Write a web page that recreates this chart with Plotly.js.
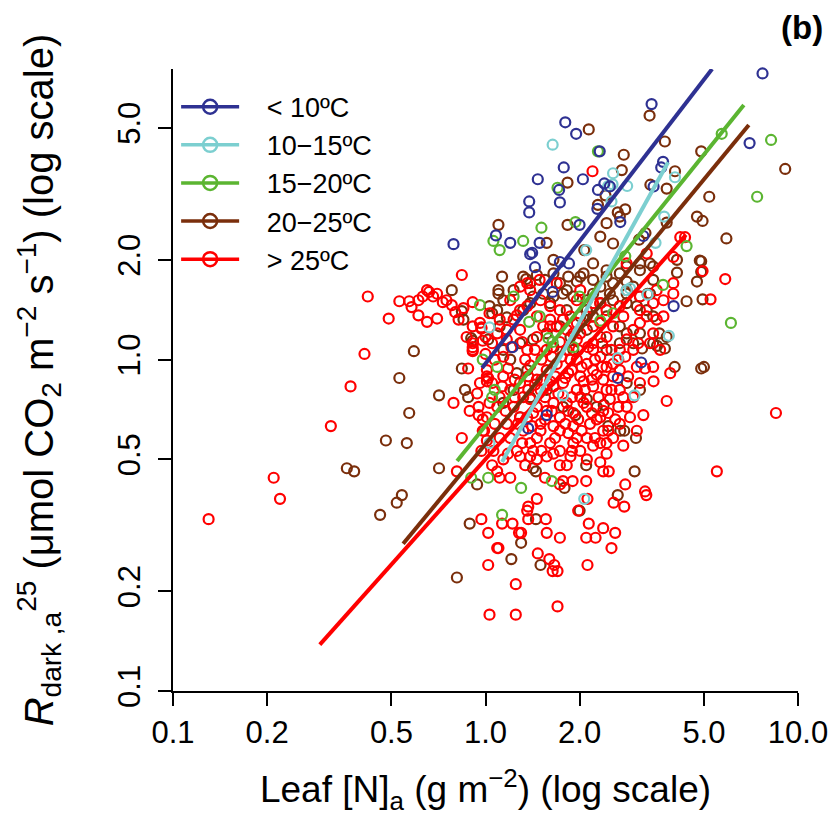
<!DOCTYPE html>
<html><head><meta charset="utf-8">
<script src="https://cdn.plot.ly/plotly-3.0.1.min.js"></script>
<style>html,body{margin:0;padding:0;background:#fff}#chart{width:831px;height:817px}</style>
</head><body><div id="chart"></div>
<script>
// ---- series labels and colours ----
const seriesNames = ['&lt; 10ºC', '10−15ºC', '15−20ºC', '20−25ºC', '&gt; 25ºC'];
const seriesColors = ['#2E3192', '#7CCFD0', '#5BB531', '#7A2E0B', '#FF0000'];

// ---- tick labels ----
const xTickVals = [0.1, 0.2, 0.5, 1, 2, 5, 10];
const xTickText = ['0.1', '0.2', '0.5', '1.0', '2.0', '5.0', '10.0'];
const yTickVals = [0.1, 0.2, 0.5, 1, 2, 5];
const yTickText = ['0.1', '0.2', '0.5', '1.0', '2.0', '5.0'];

// ---- data: [Leaf N_a (g m-2), Rdark_a25 (umol CO2 m-2 s-1)] ----
const ptsLt10 = [[7.7,7.3],[3.4,5.9],[1.8,5.2],[1.95,4.8],[7.0,4.5],[3.65,3.8],[3.7,3.95],[1.47,3.5],[1.78,3.8],[2.05,3.5],[1.72,3.25],[1.73,2.98],[2.29,3.25],[2.28,2.85],[1.38,3.0],[1.38,2.78],[2.4,3.4],[2.5,3.33],[3.45,3.33],[0.79,2.23],[1.08,2.37],[1.2,2.25],[1.49,2.25],[1.41,2.1],[1.44,1.9],[2.0,2.55],[2.7,2.6],[3.2,2.36],[4.0,1.45],[1.85,1.95],[1.73,1.97],[1.22,1.09],[1.39,2.08],[2.32,4.25],[3.15,0.98],[2.65,0.88],[1.37,0.62],[1.57,0.68],[1.64,1.6]];

const pts10to15 = [[1.64,4.45],[2.56,3.65],[2.47,3.34],[2.55,3.38],[2.84,3.34],[4.04,3.55],[3.73,2.7],[3.5,2.25],[2.53,3.0],[1.03,1.25],[3.86,1.18],[3.3,1.57],[2.83,1.62],[2.1,2.14],[2.65,1.01],[3.0,0.78],[1.77,0.78],[2.07,0.38],[2.9,1.64],[1.03,0.56]];

const pts15to20 = [[5.7,4.8],[8.2,4.6],[7.4,3.1],[6.1,1.29],[2.29,4.25],[1.7,3.3],[1.51,2.5],[1.32,2.28],[1.06,2.28],[1.11,2.14],[1.23,1.55],[0.96,1.46],[1.94,2.6],[4.4,2.2],[3.7,1.68],[1.49,1.35],[1.09,0.95],[1.05,0.77],[1.3,0.41],[1.13,0.34],[1.02,0.44],[1.63,0.43],[1.64,1.13],[2.56,1.38],[0.98,1.0],[1.07,0.81],[0.9,0.44],[1.59,1.16],[1.91,1.09],[2.33,1.31],[1.38,1.3],[2.0,1.55],[2.8,2.05]];

const pts20to25 = [[3.35,5.45],[2.14,4.95],[3.75,4.55],[4.9,4.25],[9.1,3.76],[2.77,4.15],[2.73,3.73],[1.83,3.42],[3.37,3.37],[3.8,3.28],[4.04,3.7],[2.29,2.93],[2.42,3.13],[5.2,3.1],[4.75,2.7],[4.95,2.62],[5.9,2.32],[3.8,2.59],[2.8,2.84],[2.65,2.78],[1.1,2.55],[1.83,2.55],[4.85,1.99],[4.9,1.84],[4.1,2.0],[4.1,1.83],[4.75,1.72],[1.13,1.78],[1.1,1.62],[0.78,1.62],[1.57,2.25],[1.65,2.0],[2.07,2.14],[3.1,2.3],[3.25,2.41],[4.95,1.52],[4.4,1.5],[1.03,1.45],[1.05,1.38],[0.84,1.4],[0.9,1.16],[1.17,1.34],[1.35,1.75],
[1.1,1.58],[0.85,1.32],[0.84,0.94],[0.71,0.78],[0.86,0.81],[0.88,0.77],[0.71,0.47],[0.89,0.32],[0.94,0.42],[0.81,0.22],[1.21,0.25],[1.3,0.28],[1.5,0.24],[1.45,0.33],[1.79,0.41],[2.0,0.35],[2.65,0.39],[3.0,0.46],[3.03,0.58],[2.78,0.61],[2.7,0.61],[2.47,0.63],[2.39,0.73],[1.94,0.68],[2.1,0.48],[1.45,0.46],[1.42,0.47],[4.9,0.94],[5.0,0.95],[4.03,0.95],[4.9,1.98],[3.54,1.1],[3.75,1.08],[3.6,1.2],[3.8,1.17],[3.17,1.08],[3.3,1.58],
[0.59,1.06],[0.53,0.88],[0.57,0.69],[0.48,0.57],[0.56,0.56],[0.36,0.47],[0.38,0.46],[0.54,0.39],[0.52,0.37],[0.46,0.34],[1.02,1.15],[0.91,1.14],
[1.32,1.78],[1.39,1.70],[1.46,1.8],[1.55,1.74],[1.65,1.82],[1.73,1.7],[1.84,1.78],[1.96,1.72],[2.06,1.82],[2.21,1.74],[2.33,1.66],[2.44,1.78],[2.56,1.7],[2.69,1.82],[2.83,1.72],[2.97,1.66],[3.12,1.86],[3.36,1.95],[3.44,1.74],[1.77,1.58],[1.91,1.55],[2.11,1.51],[2.33,1.48],[2.56,1.51],[2.83,1.48],[3.05,1.45],[3.28,1.41],[3.44,1.35],[2.69,1.26],[2.83,1.2],[2.44,1.07],[2.33,1.17],[2.11,1.23],[1.87,1.17],[1.73,1.26],[1.57,1.2],[1.42,1.15],[1.29,1.12],[1.2,1.0],[1.14,1.07],[1.36,0.93],[1.26,0.91],[1.65,1.09],[1.91,1.07],[2.69,1.12],[2.97,1.12],[3.12,1.2],[3.44,1.12],[2.44,1.35],[2.21,1.35],[1.14,1.51],[1.23,1.62],[1.09,1.41],[1.53,1.58],[1.39,1.48],[1.61,1.48],[1.82,1.41],[2.01,1.35],[2.21,1.58],[2.5,1.58],[2.83,1.58],[3.12,1.55],[3.36,1.58],[2.27,0.72],[1.57,0.81],[1.39,0.77],[1.23,0.81],[1.77,0.72],[2.11,0.76],[2.83,0.85],[3.12,0.81],[1.29,0.67],[1.14,0.74],
[2.44,2.58],[2.69,2.7],[2.33,2.35],[2.56,2.24],[2.21,1.95],[2.44,1.86],[2.83,1.91],[3.12,1.95],[3.44,1.91],[2.01,1.78],[1.82,1.62],[1.65,1.55],[1.42,1.55],[1.32,1.41],[1.11,1.26],[2.11,1.41],[2.83,1.62]];

const ptsGt25 = [[0.13,0.33],[0.21,0.44],[0.22,0.38],[0.32,0.63],[0.37,0.83],[0.41,1.04],[0.42,1.55],[0.49,1.33],[0.53,1.5],[0.58,1.44],[0.61,1.51],[0.63,1.55],[0.65,1.62],[0.68,1.55],[0.70,1.58],[0.61,1.36],[0.65,1.3],[0.70,1.33],[0.75,1.51],[0.78,1.46],[0.80,1.39],[0.84,1.8],[0.85,1.43],[0.91,1.49],[0.82,1.32],[0.97,1.25],[0.98,1.14],[0.91,1.09],[0.91,1.06],[0.88,0.94],[0.79,0.74],[0.95,0.68],[0.98,0.66],[0.99,0.61],[0.84,0.58],[0.81,0.46],[0.97,0.33],[1.02,0.3],[1.02,0.24],[1.01,0.89],[1.01,0.86],[0.66,1.6],[0.73,1.49],[0.57,1.5],
[8.5,0.69],[5.5,0.46],[5.85,1.75],[5.25,1.52],[4.95,1.85],[3.8,0.75],[3.45,0.86],[3.9,0.91],[3.2,0.68],[3.24,0.94],[3.24,0.4],[3.27,0.39],[2.8,0.42],[2.57,0.37],[2.78,0.36],[2.6,0.3],[2.53,0.27],[2.38,0.31],[2.38,0.46],[2.48,0.46],[2.12,0.38],[2.14,0.32],[2.1,0.29],[2.25,0.29],[2.12,0.24],[1.7,0.18],[1.25,0.17],[1.03,0.17],[1.25,0.21],[1.09,0.27],[1.1,0.27],[1.13,0.32],[1.22,0.32],[1.28,0.3],[1.3,0.3],[1.37,0.33],[1.56,0.33],[1.57,0.3],[1.73,0.29],[1.47,0.26],[1.6,0.25],[1.66,0.24],[1.64,0.23],[1.7,0.23],[1.37,0.36],[1.36,0.35],[1.46,0.38],[1.98,0.35],[1.9,0.43],[2.1,0.43],[1.73,0.42],[1.77,0.43],[1.09,0.46],[1.11,0.44],[1.2,0.44],
[4.2,2.34],[4.35,2.34],[2.2,3.7],[1.36,1.7],[1.49,1.74],[1.69,1.7],[2.01,1.62],[2.33,1.48],[2.69,1.45],[3.12,1.55],[3.53,1.62],[3.99,1.7],[3.28,2.09],[2.83,1.95],[3.99,2.04],[1.29,1.41],[1.61,1.26],[1.91,1.2],[2.21,1.12],[1.17,1.15],[0.96,1.29],
[0.97,1.24],[1.0,1.17],[0.91,1.07],[1.01,0.93],[0.96,0.85],[1.02,0.88],[1.14,1.02],[1.18,0.94],[1.26,1.36],[1.29,1.23],[1.31,1.13],[1.36,1.07],[1.39,0.96],[1.46,1.17],[1.53,1.26],[1.57,1.07],[1.63,1.02],[1.69,0.97],[1.73,1.13],[1.82,1.07],[1.89,0.93],[1.96,1.0],[2.01,0.89],[2.11,0.97],[2.21,1.07],[2.33,1.02],[2.44,0.95],[2.56,0.89],[2.69,1.07],[2.83,1.15],[2.97,1.23],[3.12,1.29],[3.28,1.35],[3.44,1.2],[3.53,1.32],[3.71,1.35],[3.62,1.07],[3.44,0.95],[2.69,0.81],[2.83,0.72],[2.5,0.76],[2.38,0.70],[2.27,0.66],[2.11,0.72],[2.01,0.77],[1.91,0.69],[1.82,0.74],[1.73,0.67],[1.65,0.63],[1.57,0.70],[1.50,0.64],[1.46,0.58],[1.39,0.56],[1.32,0.61],[1.29,0.67],[1.23,0.72],[1.17,0.64],[1.11,0.58],[1.06,0.53],[1.14,0.50],[1.26,0.53],[1.39,0.51],[1.57,0.51],[1.73,0.53],[1.91,0.56],[2.11,0.58],[2.33,0.56],[2.56,0.58],[2.76,0.55],[2.9,0.67],[2.97,0.77],[3.12,0.85],[2.69,0.93],[2.44,1.17],[2.21,1.26],[2.01,1.2],[1.87,1.35],[1.73,1.41],[1.61,1.45],[1.50,1.51],[1.39,1.62],[1.29,1.66],[1.2,1.51],[1.11,1.32],[1.03,1.38],[0.91,1.26],[0.87,1.17],[0.91,1.12],[1.39,0.76],[1.5,0.81],[1.65,0.83],[1.77,0.85],[1.96,0.81],[2.21,0.83],[2.38,0.87],[2.56,0.97],[2.21,0.93],[1.96,1.15],[1.82,1.23],[1.69,1.26],[1.57,0.93],[1.46,0.87],[1.29,0.85],[1.2,0.81],[1.14,0.89],[1.09,0.72],[1.01,0.67],[0.98,0.61],[1.03,0.74],[1.11,0.77],[1.32,0.77],[1.42,0.69],[1.65,0.74],[1.91,0.63],[2.16,0.64],[2.38,0.61],[2.69,0.64],
[1.0,1.04],[1.07,1.0],[1.21,1.09],[1.34,1.0],[1.44,1.07],[1.51,1.0],[1.63,1.09],[1.75,1.02],[1.87,1.0],[1.98,1.07],[2.13,1.09],[2.24,1.0],[2.36,1.12],[2.53,1.07],[2.66,1.0],[2.8,1.02],[2.97,1.07],[3.08,1.12],[3.36,1.12],[1.05,0.85],[1.13,0.83],[1.24,0.87],[1.37,0.89],[1.51,0.87],[1.67,0.89],[1.84,0.91],[2.03,0.95],[2.19,0.87],[2.36,0.95],[2.53,0.81],[2.86,0.89],[3.05,0.95],[1.24,0.77],[1.37,0.81],[1.55,0.77],[1.71,0.79],[1.89,0.77],[2.08,0.81],[2.3,0.77],[2.47,0.69],[2.66,0.72],[1.16,0.70],[1.27,0.64],[1.41,0.63],[1.55,0.66],[1.8,0.64],[1.98,0.66],[2.19,0.69],[1.67,0.58],[1.84,0.6],[2.03,0.61],[2.24,0.58],[2.47,0.61],[1.51,0.53],[1.31,0.56],[1.2,0.58],[1.07,0.64],[1.01,0.57],[0.97,0.53],[1.05,0.48],[1.18,0.52],[1.34,0.48],[1.46,0.50],[1.87,0.51],[2.01,0.53],[1.61,0.56],[1.73,0.48],[1.55,0.44],[2.44,0.52],[3.05,0.61],[0.94,0.79],[0.95,0.72],[0.89,0.70],[1.05,1.12],[1.09,1.2],[1.17,1.23],[1.23,1.32],[1.36,1.45],[1.46,1.35],[1.61,1.32],[1.77,1.32],[1.96,1.29],[2.11,1.35],[2.33,1.29],[2.56,1.26],[2.76,1.35],[3.12,1.41],[3.44,1.48],[3.71,1.51],[3.99,1.58],[2.44,1.41],[2.21,1.48],[1.96,1.51],
[1.44,0.84],[1.61,0.86],[1.8,0.88],[2.06,0.86],[2.27,0.90],[2.44,0.81],[2.76,0.77],[1.46,0.72],[1.63,0.70],[1.84,0.70],[2.06,0.74],[2.33,0.67],[2.6,0.66],[1.36,0.67],[1.5,0.61],[1.73,0.61],[1.96,0.58],[2.21,0.55],[2.44,0.56],[1.89,0.53],[1.65,0.52],[1.42,0.53],[1.29,0.51],[2.11,0.50],[1.82,0.48],[2.33,0.49]];

// ---- fitted regression lines (end points) ----
const fitLt10X = [0.975, 5.31],   fitLt10Y = [0.943, 7.53];
const fit10to15X = [1.13, 3.84],  fit10to15Y = [0.491, 3.94];
const fit15to20X = [0.811, 6.71], fit15to20Y = [0.494, 5.86];
const fit20to25X = [0.545, 6.96], fit20to25Y = [0.278, 5.10];
const fitGt25X = [0.295, 4.38],   fitGt25Y = [0.138, 2.38];

const FONT = 'Liberation Sans, Arial, Helvetica, sans-serif';
const groups = [ptsLt10, pts10to15, pts15to20, pts20to25, ptsGt25];
const fits = [[fitLt10X, fitLt10Y], [fit10to15X, fit10to15Y], [fit15to20X, fit15to20Y], [fit20to25X, fit20to25Y], [fitGt25X, fitGt25Y]];

const traces = [];
// legend-only entries (line + open circle)
seriesNames.forEach((nm, i) => {
  traces.push({
    x: [null], y: [null], type: 'scatter', mode: 'lines+markers',
    name: '\u00a0\u00a0\u00a0' + nm, showlegend: true, hoverinfo: 'skip',
    line: {color: seriesColors[i], width: 3.5},
    marker: {symbol: 'circle-open', size: 14, color: seriesColors[i], line: {width: 2.5, color: seriesColors[i]}}
  });
});
// points
const drawOrder = [3, 4, 2, 1, 0];
drawOrder.forEach(i => {
  traces.push({
    x: groups[i].map(p => p[0]), y: groups[i].map(p => p[1]),
    type: 'scatter', mode: 'markers', showlegend: false, cliponaxis: false,
    marker: {symbol: 'circle-open', size: 10, color: seriesColors[i], line: {width: 2.2, color: seriesColors[i]}}
  });
});
// fitted lines
[4, 3, 2, 1, 0].forEach(i => {
  traces.push({
    x: fits[i][0], y: fits[i][1], type: 'scatter', mode: 'lines', showlegend: false,
    line: {color: seriesColors[i], width: 4}
  });
});

const axisCommon = {
  type: 'log', showgrid: false, zeroline: false, showline: true, linewidth: 2, linecolor: '#000',
  ticks: 'outside', ticklen: 13, tickwidth: 2, tickcolor: '#000',
  tickfont: {family: FONT, size: 31, color: '#000'}, mirror: false
};

const layout = {
  width: 831, height: 817,
  margin: {l: 173, r: 33, t: 69, b: 126, pad: 0},
  paper_bgcolor: '#fff', plot_bgcolor: '#fff',
  font: {family: FONT, color: '#000'},
  showlegend: true,
  legend: {x: 0.005, y: 0.978, xanchor: 'left', yanchor: 'top', bgcolor: 'rgba(0,0,0,0)',
           borderwidth: 0, itemwidth: 58, font: {family: FONT, size: 27, color: '#000'}},
  xaxis: Object.assign({}, axisCommon, {
    range: [-1, 1], tickmode: 'array', tickvals: xTickVals, ticktext: xTickText, ticklabelstandoff: 0,
    title: {text: 'Leaf [N]<sub>a</sub> (g m<sup>−2</sup>) (log scale)', font: {family: FONT, size: 37, color: '#000'}, standoff: 27}
  }),
  yaxis: Object.assign({}, axisCommon, {
    range: [-1, 0.8768], tickmode: 'array', tickvals: yTickVals, ticktext: yTickText, tickangle: -90, ticklabelstandoff: 6,
    title: {text: '<i>R</i><sub>dark ,a</sub><sup>25</sup> (μmol CO<sub>2</sub> m<sup>−2</sup> s<sup>−1</sup>) (log scale)',
            font: {family: FONT, size: 40, color: '#000'}, standoff: 46}
  }),
  annotations: [{text: '<b>(b)</b>', xref: 'paper', yref: 'paper', x: 1.006, y: 1.066,
                 xanchor: 'center', yanchor: 'middle', showarrow: false,
                 font: {family: FONT, size: 33, color: '#000'}}]
};

Plotly.newPlot('chart', traces, layout, {staticPlot: true, displayModeBar: false});
</script></body></html>
